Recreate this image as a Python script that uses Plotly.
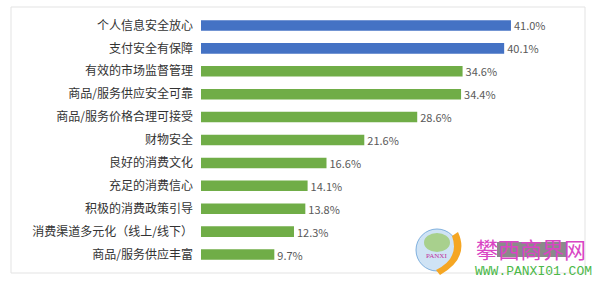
import plotly.graph_objects as go

categories = ["个人信息安全放心", "支付安全有保障", "有效的市场监督管理", "商品/服务供应安全可靠",
              "商品/服务价格合理可接受", "财物安全", "良好的消费文化", "充足的消费信心",
              "积极的消费政策引导", "消费渠道多元化（线上/线下）", "商品/服务供应丰富"]
values = [41.0, 40.1, 34.6, 34.4, 28.6, 21.6, 16.6, 14.1, 13.8, 12.3, 9.7]
value_labels = [f"{v:.1f}%" for v in values]
BLUE = "#4472C4"
GREEN = "#70AD47"
colors = [BLUE, BLUE] + [GREEN] * 9

fig = go.Figure(go.Bar(
    x=values, y=categories, orientation="h",
    marker=dict(color=colors, line=dict(width=0)),
    text=value_labels, textposition="outside", cliponaxis=False,
    constraintext="none",
    textfont=dict(size=11, color="#595959", family="Noto Sans CJK SC"),
))

def px(x):
    return (x - 201) / 378

def py(y):
    return (266 - y) / 252

fig.update_layout(
    width=600, height=282,
    margin=dict(l=201, r=21, t=14, b=16),
    paper_bgcolor="white", plot_bgcolor="white",
    showlegend=False, bargap=0.54,
    font=dict(family="Noto Sans CJK SC", size=12, color="#333333"),
    xaxis=dict(range=[0, 50], visible=False, fixedrange=True),
    yaxis=dict(autorange="reversed", showgrid=False, zeroline=False, showline=False,
               ticks="", ticklabelstandoff=7,
               tickfont=dict(size=12, color="#333333", family="Noto Sans CJK SC")),
    shapes=[
        dict(type="rect", xref="paper", yref="paper", layer="below",
             x0=px(11), x1=px(585), y0=py(273), y1=py(7),
             line=dict(color="#E3E3E3", width=1), fillcolor="rgba(0,0,0,0)"),
        # watermark: globe
        dict(type="circle", xref="paper", yref="paper",
             x0=px(416), x1=px(458), y0=py(271), y1=py(229),
             line=dict(color="#7FB0DE", width=1), fillcolor="#CFE3F5"),
        dict(type="circle", xref="paper", yref="paper",
             x0=px(424), x1=px(450), y0=py(252), y1=py(233),
             line=dict(width=0), fillcolor="#A8D08D"),
        dict(type="path", xref="paper", yref="paper",
             path=f"M {px(458)} {py(232)} Q {px(470)} {py(258)} {px(440)} {py(275)} L {px(436)} {py(270)} Q {px(460)} {py(258)} {px(452)} {py(236)} Z",
             line=dict(width=0), fillcolor="#F5A623"),
        dict(type="rect", xref="paper", yref="paper",
             x0=px(497), x1=px(567), y0=py(257), y1=py(242),
             line=dict(width=0), fillcolor="#8A8A8A"),
    ],
    annotations=[
        dict(text="攀西商界网", xref="paper", yref="paper", x=px(474), y=py(248),
             xanchor="left", yanchor="middle", showarrow=False,
             font=dict(size=22, color="#D945C4", family="Noto Sans CJK SC")),
        dict(text="WWW.PANXI01.COM", xref="paper", yref="paper", x=px(473), y=py(271),
             xanchor="left", yanchor="middle", showarrow=False,
             font=dict(size=13, color="#4CB848", family="Liberation Mono")),
        dict(text="PANXI", xref="paper", yref="paper", x=px(436), y=py(256),
             xanchor="center", yanchor="middle", showarrow=False,
             font=dict(size=7, color="#C0309A", family="Liberation Serif")),
    ],
)

fig.write_html("out.html")
